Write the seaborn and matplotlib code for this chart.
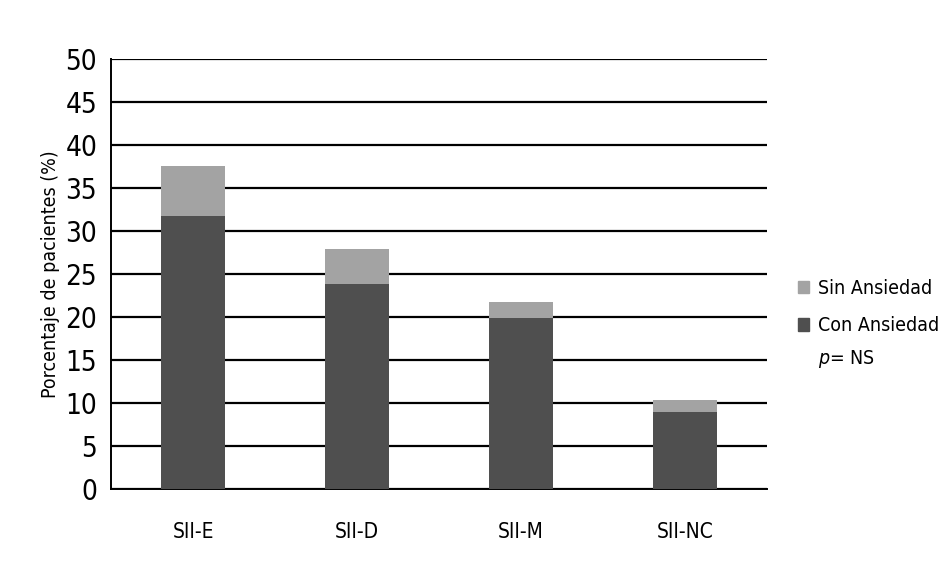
import pandas as pd
import seaborn as sns
import matplotlib.pyplot as plt
from matplotlib.patches import Patch

grupos = ['SII-E', 'SII-D', 'SII-M', 'SII-NC']
con_ansiedad = [31.7, 23.8, 19.9, 8.9]
sin_ansiedad = [5.9, 4.1, 1.9, 1.5]

df = pd.DataFrame({'Grupo': grupos, 'Con': con_ansiedad, 'Sin': sin_ansiedad})
df['Total'] = df['Con'] + df['Sin']

sns.set_theme(style='white')
plt.rcParams['font.family'] = ['DejaVu Sans']
plt.rcParams['font.stretch'] = 'condensed'
plt.rcParams['text.color'] = 'black'
plt.rcParams['axes.labelcolor'] = 'black'
plt.rcParams['xtick.color'] = 'black'
plt.rcParams['ytick.color'] = 'black'

fig = plt.figure(figsize=(9.45, 5.83), dpi=100)
ax = fig.add_axes([0.1175, 0.1612, 0.6941, 0.7376])

# barras totales (claro) y encima la parte con ansiedad (oscuro)
sns.barplot(data=df, x='Grupo', y='Total', color='#a3a3a3', width=0.39,
            saturation=1, linewidth=0, ax=ax, zorder=3)
sns.barplot(data=df, x='Grupo', y='Con', color='#4f4f4f', width=0.39,
            saturation=1, linewidth=0, ax=ax, zorder=3)

ax.set_ylim(0, 50)
ax.set_yticks(range(0, 51, 5))
ax.set_xlim(-0.5, 3.5)
ax.yaxis.grid(True, color='black', linewidth=1.6, zorder=0)
ax.set_axisbelow(True)
for s in ['top', 'right']:
    ax.spines[s].set_visible(False)
for s in ['left', 'bottom']:
    ax.spines[s].set_color('black')
    ax.spines[s].set_linewidth(1.4)
ax.tick_params(axis='y', labelsize=20, length=0, pad=10)
ax.tick_params(axis='x', labelsize=15, length=0, pad=24)
ax.set_xlabel('')
ax.set_ylabel('Porcentaje de pacientes (%)', fontsize=14, labelpad=4)

handles = [Patch(color='#a3a3a3'), Patch(color='#4f4f4f')]
fig.legend(handles, ['Sin Ansiedad', 'Con Ansiedad'], loc='upper left',
           bbox_to_anchor=(0.836, 0.535), frameon=False, fontsize=14,
           handlelength=0.6, handleheight=0.6, handletextpad=0.45,
           labelspacing=0.95, borderaxespad=0)
fig.text(0.866, 0.375, '$p$= NS', fontsize=14)

fig.savefig('out.png', dpi=100)
